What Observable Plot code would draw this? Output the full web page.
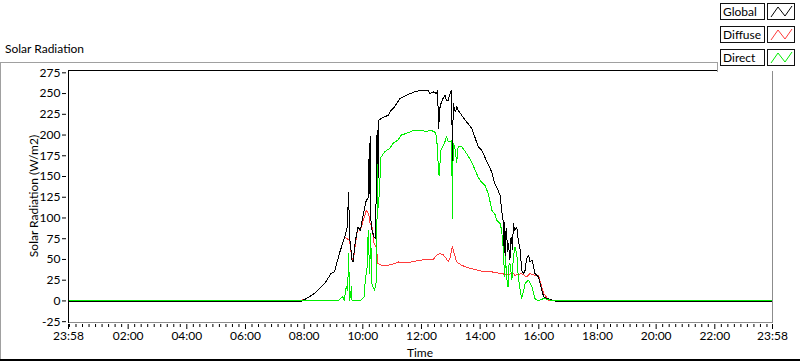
<!DOCTYPE html>
<html><head><meta charset="utf-8">
<script src="https://cdn.jsdelivr.net/npm/d3@7"></script>
<script src="https://cdn.jsdelivr.net/npm/@observablehq/plot@0.6"></script>
<style>
body{margin:0;background:#fff;}
#wrap{position:relative;width:800px;height:361px;overflow:hidden;font-family:Lato,"Liberation Sans",sans-serif;font-size:12px;color:#000;background:#fff;}
#chart svg{display:block}
.abs{position:absolute}
.lbl{position:absolute;left:720px;width:41px;height:15px;border:1px solid #111;background:#fff;line-height:15px;padding-left:2px;box-sizing:content-box}
.sw{position:absolute;left:767px;width:26px;height:15px;border:1px solid #111;background:#fff}
</style></head><body>
<div id="wrap">
  <div id="chart"></div>
</div>
<script>
// ---- data ----
const seriesNames = ["Global", "Diffuse", "Direct"];
const seriesColors = ["#000000", "#ff3b3b", "#00ee00"];
const xTickLabels = ["23:58","02:00","04:00","06:00","08:00","10:00","12:00","14:00","16:00","18:00","20:00","22:00","23:58"];
const yTicks = [-25,0,25,50,75,100,125,150,175,200,225,250,275];

const globalTimes = ["23:58","07:52","08:05","08:21","08:42","08:55","09:02","09:12","09:23","09:28","09:31","09:33","09:38","09:40","09:45","09:50","09:55","10:00","10:04","10:07","10:12","10:13","10:14","10:15","10:16","10:17","10:23","10:26","10:29","10:30","10:31","10:32","10:33","10:38","10:52","10:58","11:05","11:16","11:29","11:46","12:00","12:14","12:17","12:24","12:31","12:33","12:35","12:38","12:41","12:44","12:48","12:51","12:55","12:57","13:00","13:02","13:03","13:05","13:08","13:10","13:12","13:15","13:22","13:32","13:43","13:56","14:03","14:13","14:24","14:30","14:34","14:41","14:44","14:47","14:48","14:49","14:50","14:51","14:52","14:53","14:54","14:56","14:58","15:00","15:01","15:02","15:04","15:06","15:08","15:11","15:15","15:18","15:22","15:25","15:29","15:32","15:35","15:39","15:42","15:46","15:49","15:52","15:59","16:03","16:06","16:10","16:16","16:27","16:37","23:58"];
const globalValues = [-1,-1,3,9,21,33,35,57,77,89,131,77,49,47,73,89,85,101,113,121,125,190,130,198,125,89,77,75,200,206,140,215,218,220,224,230,234,244,248,252,254,254,250,252,250,254,208,234,240,244,248,242,242,248,252,254,161,238,230,228,234,230,224,216,208,186,182,169,155,141,137,127,109,97,62,95,58,80,49,88,85,60,69,55,49,75,77,62,93,85,89,73,61,37,33,37,51,55,47,49,43,33,29,21,13,5,3,1,-1,-1];

const diffuseTimes = ["23:58","04:20","04:22","04:26","07:52","08:05","08:21","08:42","08:55","09:02","09:12","09:23","09:33","09:37","09:40","09:45","09:50","09:54","09:57","10:03","10:07","10:12","10:15","10:19","10:23","10:28","10:29","10:31","10:38","10:52","11:05","11:12","11:26","11:40","11:57","12:10","12:24","12:31","12:38","12:44","12:51","12:55","12:59","13:03","13:07","13:12","13:22","13:36","13:49","14:03","14:13","14:24","14:44","14:58","15:05","15:11","15:25","15:35","15:42","15:52","15:59","16:03","16:10","16:20","16:37","23:58"];
const diffuseValues = [0,0,1,0,0,3,9,21,33,35,57,77,73,53,47,69,89,85,89,101,109,105,93,89,69,65,57,45,43,43,45,47,46,47,49,50,50,55,57,56,51,47,53,66,57,47,43,40,38,36,35,35,33,31,35,31,33,29,33,31,31,23,9,1,0,0];

const directTimes = ["23:58","09:09","09:19","09:22","09:26","09:29","09:31","09:33","09:37","09:38","09:55","10:03","10:05","10:09","10:11","10:14","10:16","10:19","10:21","10:24","10:28","10:30","10:31","10:32","10:35","10:37","10:45","10:55","11:02","11:12","11:19","11:29","11:46","12:00","12:10","12:17","12:27","12:31","12:34","12:36","12:40","12:47","12:51","12:55","13:00","13:02","13:03","13:05","13:08","13:12","13:15","13:22","13:32","13:43","13:56","14:03","14:10","14:17","14:24","14:30","14:34","14:41","14:44","14:47","14:50","14:52","14:54","14:57","14:59","15:01","15:05","15:08","15:11","15:15","15:18","15:22","15:25","15:28","15:32","15:39","15:46","15:52","15:59","16:10","16:18","16:31","23:58"];
const directValues = [0,0,5,0,17,12,57,0,17,0,0,5,25,41,85,33,81,17,17,13,25,165,120,113,145,173,180,184,190,194,200,202,206,206,204,206,204,198,167,151,182,190,198,192,192,194,99,190,186,167,186,186,178,167,149,143,139,129,109,105,97,93,85,65,29,53,29,17,43,45,25,53,65,57,29,13,3,10,21,25,17,3,0,3,2,0,0];

// ---- helpers ----
function toMin(s, i) {
  const [h, m] = s.split(":").map(Number);
  let v = h * 60 + m;
  if (i === 0 && v > 1400) v -= 1440; // start of axis is previous day 23:58
  return v;
}
const xTicks = xTickLabels.map(toMin);
const minorTicks = d3.range(0, 1440, 120 / 9).filter(t => t > -2 && t < 1438 && !xTicks.some(x => Math.abs(x - t) < 1));

function rows(name, times, values) {
  return times.map((t, i) => ({series: name, t: toMin(t, i), v: values[i]}));
}
const data = {
  Global: rows("Global", globalTimes, globalValues),
  Diffuse: rows("Diffuse", diffuseTimes, diffuseValues),
  Direct: rows("Direct", directTimes, directValues)
};
const color = Object.fromEntries(seriesNames.map((n, i) => [n, seriesColors[i]]));

const plot = Plot.plot({
  width: 800, height: 361,
  marginLeft: 68, marginRight: 28, marginTop: 70, marginBottom: 39,
  style: {fontFamily: "Lato, 'Liberation Sans', sans-serif", fontSize: "12px", color: "#000", background: "transparent", overflow: "visible"},
  x: {domain: [-2, 1438], axis: null},
  y: {domain: [-26, 277.8], axis: null},
  marks: [
    Plot.line(data.Diffuse, {x: "t", y: "v", stroke: color.Diffuse, strokeWidth: 1, shapeRendering: "crispEdges"}),
    Plot.line(data.Global, {x: "t", y: "v", stroke: color.Global, strokeWidth: 1, shapeRendering: "crispEdges"}),
    Plot.line(data.Direct, {x: "t", y: "v", stroke: color.Direct, strokeWidth: 1, shapeRendering: "crispEdges"}),
    Plot.frame({anchor: "bottom", stroke: "#8c8c8c"}),
    Plot.frame({anchor: "right", stroke: "#8c8c8c"}),
    Plot.frame({anchor: "top", stroke: "#000"}),
    Plot.frame({anchor: "left", stroke: "#000"}),
    Plot.axisY({ticks: yTicks, tickSize: 4, tickPadding: 2, dx: -2, label: null, tickFormat: d => String(d)}),
    Plot.axisX({ticks: xTicks, tickSize: 5, tickPadding: 2, dy: 2, label: null, tickFormat: (d) => xTickLabels[xTicks.indexOf(d)]}),
    Plot.axisX({ticks: minorTicks, tickSize: 3, dy: 2, label: null, text: null})
  ]
});
const wrap = document.getElementById("wrap");
document.getElementById("chart").appendChild(plot);

function addDiv(css, text, cls) {
  const d = document.createElement("div");
  d.className = cls || "abs";
  d.style.cssText = css;
  if (text != null) d.textContent = text;
  wrap.appendChild(d);
  return d;
}
// outer panel lines
addDiv("left:0;top:62px;width:717px;height:1px;background:#a0a0a0");
addDiv("left:0;top:62px;width:1px;height:298px;background:#a0a0a0");
addDiv("left:0;top:359px;width:800px;height:2px;background:#000");
// titles
addDiv("left:5px;top:41px;white-space:nowrap", "Solar Radiation");
addDiv("left:420px;top:345px;transform:translateX(-50%);white-space:nowrap", "Time");
addDiv("left:33px;top:196px;transform:translate(-50%,-50%) rotate(-90deg);white-space:nowrap", "Solar Radiation (W/m2)");
// legend panel
addDiv("left:717px;top:0;width:83px;height:71px;background:#fff");
addDiv("left:717px;top:62px;width:1px;height:10px;background:#a0a0a0");
const rowTops = [3, 26, 49];
seriesNames.forEach((n, i) => {
  addDiv("top:" + rowTops[i] + "px", n, "lbl");
  const sw = addDiv("top:" + rowTops[i] + "px", null, "sw");
  sw.innerHTML = '<svg width="26" height="15" style="display:block"><polyline points="3,13 10,3 17,12 24,2" fill="none" stroke="' + seriesColors[i] + '" stroke-width="1"/></svg>';
});
</script>
</body></html>
